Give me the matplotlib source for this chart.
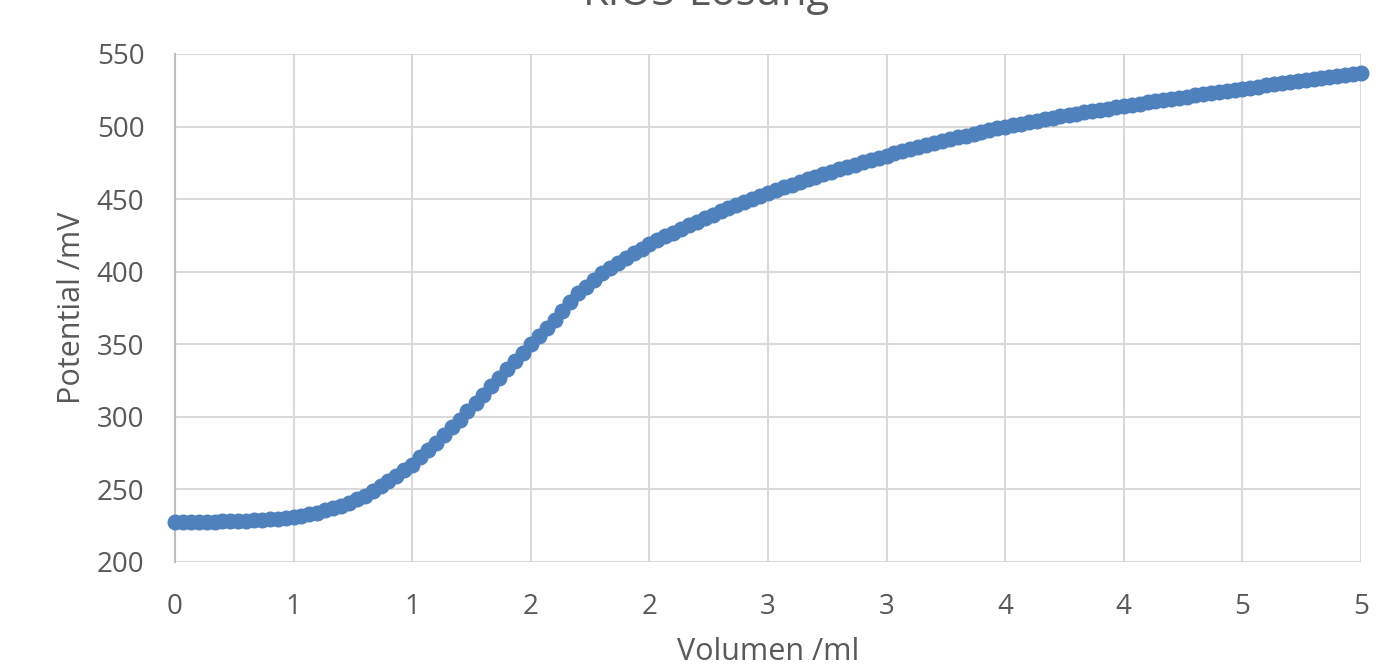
import matplotlib
matplotlib.use("Agg")
import matplotlib.pyplot as plt

# ---- data ----
volume_ml = [
    0.000, 0.033, 0.067, 0.100, 0.133, 0.167, 0.200, 0.233, 0.267, 0.300,
    0.333, 0.367, 0.400, 0.433, 0.467, 0.500, 0.533, 0.567, 0.600, 0.633,
    0.667, 0.700, 0.733, 0.767, 0.800, 0.833, 0.867, 0.900, 0.933, 0.967,
    1.000, 1.033, 1.067, 1.100, 1.133, 1.167, 1.200, 1.233, 1.267, 1.300,
    1.333, 1.367, 1.400, 1.433, 1.467, 1.500, 1.533, 1.567, 1.600, 1.633,
    1.667, 1.700, 1.733, 1.767, 1.800, 1.833, 1.867, 1.900, 1.933, 1.967,
    2.000, 2.033, 2.067, 2.100, 2.133, 2.167, 2.200, 2.233, 2.267, 2.300,
    2.333, 2.367, 2.400, 2.433, 2.467, 2.500, 2.533, 2.567, 2.600, 2.633,
    2.667, 2.700, 2.733, 2.767, 2.800, 2.833, 2.867, 2.900, 2.933, 2.967,
    3.000, 3.033, 3.067, 3.100, 3.133, 3.167, 3.200, 3.233, 3.267, 3.300,
    3.333, 3.367, 3.400, 3.433, 3.467, 3.500, 3.533, 3.567, 3.600, 3.633,
    3.667, 3.700, 3.733, 3.767, 3.800, 3.833, 3.867, 3.900, 3.933, 3.967,
    4.000, 4.033, 4.067, 4.100, 4.133, 4.167, 4.200, 4.233, 4.267, 4.300,
    4.333, 4.367, 4.400, 4.433, 4.467, 4.500, 4.533, 4.567, 4.600, 4.633,
    4.667, 4.700, 4.733, 4.767, 4.800, 4.833, 4.867, 4.900, 4.933, 4.967,
    5.000,
]

potential_mV = [
    227.5, 227.6, 227.6, 227.7, 227.8, 227.9, 228.0, 228.2, 228.3, 228.5,
    228.8, 229.0, 229.3, 229.9, 230.4, 231.0, 232.0, 233.0, 234.0, 235.5,
    237.0, 238.5, 240.8, 243.2, 245.5, 248.8, 252.2, 255.5, 259.3, 263.2,
    267.0, 272.0, 277.0, 282.0, 287.3, 292.7, 298.0, 303.7, 309.3, 315.0,
    321.0, 327.0, 333.0, 338.7, 344.3, 350.0, 355.7, 361.3, 367.0, 373.0,
    379.0, 385.0, 389.7, 394.3, 399.0, 402.5, 406.0, 409.5, 412.7, 415.8,
    419.0, 421.7, 424.3, 427.0, 429.5, 432.0, 434.5, 436.8, 439.2, 441.5,
    443.7, 445.8, 448.0, 450.2, 452.3, 454.5, 456.3, 458.2, 460.0, 461.8,
    463.7, 465.5, 467.2, 468.8, 470.5, 472.2, 473.8, 475.5, 477.0, 478.5,
    480.0, 481.5, 483.0, 484.5, 485.8, 487.2, 488.5, 489.8, 491.2, 492.5,
    493.8, 495.2, 496.5, 497.7, 498.8, 500.0, 501.0, 502.0, 503.0, 504.0,
    505.0, 506.0, 507.0, 508.0, 509.0, 509.8, 510.7, 511.5, 512.3, 513.2,
    514.0, 514.9, 515.7, 516.6, 517.4, 518.3, 519.1, 519.9, 520.7, 521.5,
    522.3, 523.0, 523.8, 524.5, 525.3, 526.0, 526.8, 527.5, 528.3, 529.1,
    529.8, 530.6, 531.3, 532.1, 532.8, 533.5, 534.3, 535.0, 535.7, 536.3,
    537.0,
]

x_ticks = [0, 0.5, 1, 1.5, 2, 2.5, 3, 3.5, 4, 4.5, 5]
x_tick_labels = ["0", "1", "1", "2", "2", "3", "3", "4", "4", "5", "5"]
y_ticks = [200, 250, 300, 350, 400, 450, 500, 550]

title_text = "KIO3-Lösung"
x_label = "Volumen /ml"
y_label = "Potential /mV"

# ---- styling ----
plt.rcParams["font.family"] = ["Open Sans", "DejaVu Sans"]
text_color = "#595959"
grid_color = "#d9d9d9"
series_color = "#4f81bd"

W, H = 1388, 665
fig = plt.figure(figsize=(W / 100, H / 100), dpi=100)
ax = fig.add_axes([175 / W, 1 - 562 / H, (1361 - 175) / W, (562 - 54) / H])

ax.plot(volume_ml, potential_mV, color=series_color, linewidth=3,
        marker="o", markersize=10.5, markerfacecolor=series_color,
        markeredgecolor=series_color, markeredgewidth=1.0,
        clip_on=False, zorder=3)

ax.set_xlim(0, 5)
ax.set_ylim(200, 550)
ax.set_xticks(x_ticks)
ax.set_xticklabels(x_tick_labels)
ax.set_yticks(y_ticks)

ax.grid(True, color=grid_color, linewidth=1.5)
ax.set_axisbelow(True)
for side in ["top", "right", "bottom"]:
    ax.spines[side].set_visible(False)
ax.spines["left"].set_color("#bfbfbf")
ax.spines["left"].set_linewidth(1.5)

ax.tick_params(axis="both", length=0, labelsize=20, labelcolor=text_color)
ax.tick_params(axis="x", pad=22)
ax.tick_params(axis="y", pad=22)

fig.text(706 / W, 1 - 5 / H, title_text, ha="center", va="baseline",
         fontsize=30, color=text_color)
fig.text(768 / W, 1 - 660 / H, x_label, ha="center", va="baseline",
         fontsize=22, color=text_color)
fig.text(80 / W, 1 - 308 / H, y_label, ha="center", va="baseline",
         rotation=90, rotation_mode="anchor", fontsize=22, color=text_color)

fig.savefig("out.png", dpi=100)
